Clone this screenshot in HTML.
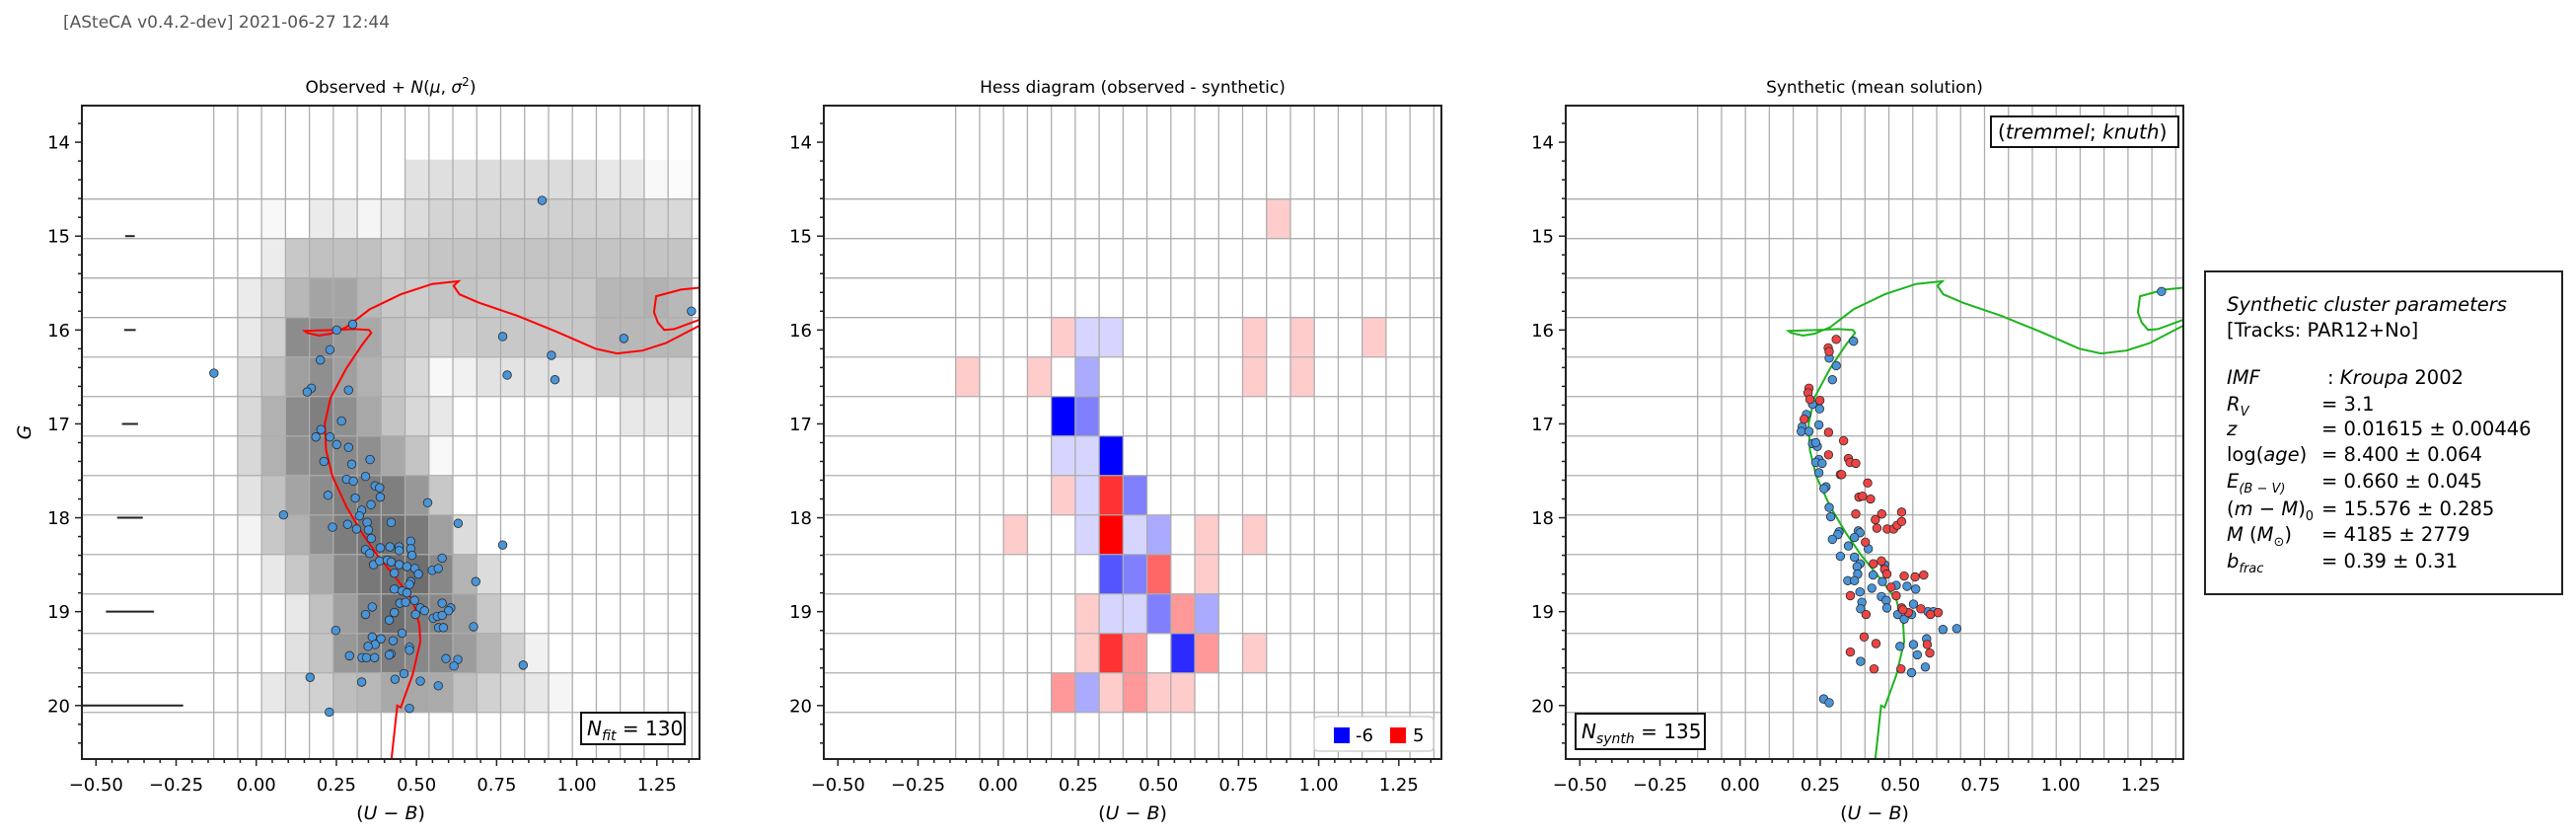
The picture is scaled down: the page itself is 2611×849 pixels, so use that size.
<!DOCTYPE html>
<html><head><meta charset="utf-8">
<style>
html,body{margin:0;padding:0;background:#fff;}
svg{display:block;font-family:"DejaVu Sans","Liberation Sans",sans-serif;}
</style></head>
<body>
<svg id="fig" width="2611" height="849" viewBox="0 0 2611 849" xmlns="http://www.w3.org/2000/svg">
<rect x="0" y="0" width="2611" height="849" fill="#fff"/>
<text x="64" y="28" font-size="17" fill="#555">[ASteCA v0.4.2-dev] 2021-06-27 12:44</text>
<g id="layer"></g>
<g font-size="19.5" fill="#000">
<rect x="2235" y="275" width="362" height="327" fill="#fff" stroke="#222" stroke-width="2"/>
<text x="2257" y="315" font-style="italic">Synthetic cluster parameters</text>
<text x="2257" y="341">[Tracks: PAR12+No]</text>
<text x="2257" y="389"><tspan font-style="italic">IMF</tspan></text><text x="2359" y="389">: <tspan font-style="italic">Kroupa</tspan> 2002</text>
<text x="2257" y="416"><tspan font-style="italic">R</tspan><tspan font-size="13" dy="5" font-style="italic">V</tspan></text><text x="2353" y="416">=  3.1</text>
<text x="2257" y="441" font-style="italic">z</text><text x="2353" y="441">=  0.01615 ± 0.00446</text>
<text x="2257" y="467">log(<tspan font-style="italic">age</tspan>)</text><text x="2353" y="467">=  8.400 ± 0.064</text>
<text x="2257" y="494"><tspan font-style="italic">E</tspan><tspan font-size="13" dy="5" font-style="italic">(B − V)</tspan></text><text x="2353" y="494">=  0.660 ± 0.045</text>
<text x="2257" y="522">(<tspan font-style="italic">m</tspan> − <tspan font-style="italic">M</tspan>)<tspan font-size="13" dy="5">0</tspan></text><text x="2353" y="522">=  15.576 ± 0.285</text>
<text x="2257" y="548"><tspan font-style="italic">M</tspan> (<tspan font-style="italic">M</tspan><tspan font-size="13" dy="5">⊙</tspan><tspan dy="-5">)</tspan></text><text x="2353" y="548">=  4185 ± 2779</text>
<text x="2257" y="575"><tspan font-style="italic">b</tspan><tspan font-size="13" dy="5" font-style="italic">frac</tspan></text><text x="2353" y="575">=  0.39 ± 0.31</text>
</g>
</svg>
<script>
// ---- data ----
const binX0 = -0.1325, binDX = 0.0746, binG0 = 14.185, binDG = 0.4206;
const obsDensity = [
[0,0,0,0,0,0,0,0,2,2.2,2.2,2.4,2.4,2.4,2.4,2.2,1.6,1.6,0.5,0.3],
[0,0,0.5,0,1.4,1.4,0.7,1.6,2.4,3,3,3.2,3.2,3.2,3.2,3.2,3.2,3.2,2.6,2.6],
[0,0,1.3,3.8,4.3,4.3,4.3,3.2,3.8,4,4,4.1,4.1,4.1,4.1,4.1,4.1,4.1,4.1,4.1],
[0,1.4,2.7,4.9,6.3,6.3,4.9,3.8,3.5,4.1,4.1,3.8,3.8,3.8,3.8,3.8,5,5,5.4,4.9],
[0,1.5,3.2,7.9,8.1,7,6,4.1,3.6,3,3.3,3.8,3.8,3.8,3.8,3.8,4.9,4.9,4.9,4.9],
[0,2.4,4.3,6.6,7.7,6.6,5.4,3.8,2.7,0.5,1,1.9,1.9,1.9,1.9,1.9,3.2,3.2,3.2,3.2],
[0,2.6,5.4,7.9,8.8,7.7,6,4.1,2.7,1.6,0,0,0,0,0,0,0,1.6,1.6,1.6],
[0,2.7,5.4,7.7,8.2,8.1,7.7,6,4.1,0.5,0,0,0,0,0,0,0,0,0,0],
[0,1.9,4.3,6.3,7.9,8.8,9,8.8,7.1,3.8,0,0,0,0,0,0,0,0,0,0],
[0,0.8,3.8,5.4,7.7,9,9.6,9.9,9.2,6.6,2.4,0,0,0,0,0,0,0,0,0],
[0,0,1.6,3.8,6,8.2,9.3,9.9,10,8.2,5.2,2.4,0,0,0,0,0,0,0,0],
[0,0,0,1.6,4.3,6.6,8.5,9.9,9,8.2,6.6,3.8,1.6,0,0,0,0,0,0,0],
[0,0,0,2.1,4.1,7.1,8.1,8.8,8.2,7.9,6.8,5.2,3.2,1,0,0,0,0,0,0],
[0,0,1.6,2.4,3.2,4.5,4.9,6,6,5.8,4.3,3.2,2.4,1.6,0.7,0,0,0,0,0]
];
const hessDiff = [
[0,0,0,0,0,0,0,0,0,0,0,0,0,0,0,0,0,0,0,0],
[0,0,0,0,0,0,0,0,0,0,0,0,0,1,0,0,0,0,0,0],
[0,0,0,0,0,0,0,0,0,0,0,0,0,0,0,0,0,0,0,0],
[0,0,0,0,0,0,0,0,0,0,0,0,0,0,0,0,0,0,0,0],
[0,0,0,0,1,-1,-1,0,0,0,0,0,1,0,1,0,0,1,0,0],
[1,0,0,1,0,-2,0,0,0,0,0,0,1,0,1,0,0,0,0,0],
[0,0,0,0,-6,-3,0,0,0,0,0,0,0,0,0,0,0,0,0,0],
[0,0,0,0,-1,-1,-6,0,0,0,0,0,0,0,0,0,0,0,0,0],
[0,0,0,0,1,-1,4,-3,0,0,0,0,0,0,0,0,0,0,0,0],
[0,0,1,0,0,-1,5,-1,-2,0,1,0,1,0,0,0,0,0,0,0],
[0,0,0,0,0,0,-4,-3,3,0,1,0,0,0,0,0,0,0,0,0],
[0,0,0,0,0,1,-1,-1,-3,2,-2,0,0,0,0,0,0,0,0,0],
[0,0,0,0,0,1,4,2,0,-5,2,0,1,0,0,0,0,0,0,0],
[0,0,0,0,2,-2,1,2,1,1,0,0,0,0,0,0,0,0,0,0]
];
const obsX = [-0.132,0.251,0.301,0.230,0.200,0.172,0.159,0.288,0.266,0.202,0.186,0.230,0.251,0.288,0.211,0.298,0.355,0.282,0.303,0.341,0.371,0.385,0.387,0.224,0.309,0.358,0.329,0.322,0.085,0.535,0.238,0.285,0.313,0.346,0.350,0.421,0.630,0.359,0.769,0.341,0.354,0.387,0.417,0.446,0.446,0.482,0.482,0.486,0.366,0.385,0.409,0.421,0.446,0.470,0.495,0.506,0.431,0.549,0.568,0.580,0.482,0.478,0.685,0.431,0.455,0.470,0.494,0.448,0.466,0.580,0.607,0.600,0.512,0.525,0.362,0.431,0.341,0.497,0.552,0.565,0.580,0.415,0.569,0.584,0.678,0.248,0.455,0.362,0.389,0.427,0.371,0.349,0.478,0.478,0.420,0.415,0.291,0.330,0.344,0.369,0.592,0.629,0.617,0.833,0.168,0.329,0.433,0.461,0.512,0.568,0.228,0.478,0.769,0.921,0.783,0.932,1.147,1.358,0.892];
const obsG = [16.46,16.00,15.94,16.21,16.32,16.62,16.66,16.64,16.97,17.06,17.14,17.14,17.22,17.25,17.40,17.43,17.38,17.59,17.61,17.56,17.66,17.68,17.78,17.76,17.79,17.86,17.92,17.98,17.97,17.84,18.10,18.07,18.12,18.05,18.13,18.05,18.06,18.22,18.29,18.34,18.38,18.32,18.31,18.31,18.35,18.25,18.33,18.40,18.50,18.46,18.45,18.47,18.50,18.52,18.54,18.60,18.59,18.56,18.54,18.43,18.68,18.71,18.68,18.76,18.78,18.80,18.88,18.91,18.90,18.91,18.96,18.99,18.96,18.99,18.95,19.01,19.03,19.03,19.07,19.05,19.04,19.09,19.17,19.17,19.16,19.20,19.23,19.27,19.29,19.31,19.35,19.37,19.38,19.41,19.45,19.46,19.47,19.49,19.49,19.49,19.50,19.51,19.58,19.57,19.70,19.75,19.72,19.66,19.74,19.79,20.07,20.03,16.07,16.27,16.48,16.53,16.09,15.80,14.62];
const errG = [15,16,17,18,19,20];
const errHalf = [0.015,0.018,0.025,0.04,0.075,0.166];
const isoX = [0.422,0.44,0.451,0.488,0.512,0.509,0.488,0.438,0.378,0.330,0.281,0.238,0.218,0.214,0.232,0.281,0.330,0.359,0.352,0.306,0.245,0.151,0.159,0.196,0.232,0.281,0.354,0.451,0.549,0.631,0.616,0.634,0.695,0.816,0.938,1.059,1.126,1.205,1.278,1.385];
const isoG = [20.57,20.0,20.02,19.67,19.32,19.14,18.88,18.65,18.40,18.16,17.88,17.56,17.28,17.00,16.72,16.41,16.16,16.03,16.00,15.99,16.00,16.01,16.03,16.06,16.04,15.97,15.78,15.62,15.51,15.48,15.53,15.62,15.71,15.85,16.02,16.20,16.25,16.22,16.14,15.95];
const loopX = [1.383,1.325,1.248,1.241,1.253,1.273,1.304,1.383];
const loopG = [15.55,15.57,15.64,15.81,15.92,16.00,15.99,15.89];
const synBlueX = [0.288,0.226,0.248,0.207,0.246,0.194,0.191,0.215,0.226,0.241,0.236,0.246,0.236,0.256,0.246,0.268,0.262,0.278,0.283,0.309,0.305,0.288,0.369,0.374,0.357,0.338,0.400,0.313,0.357,0.374,0.365,0.367,0.336,0.357,0.415,0.451,0.444,0.487,0.521,0.548,0.411,0.374,0.441,0.456,0.380,0.376,0.458,0.541,0.492,0.512,0.535,0.586,0.603,0.633,0.676,0.582,0.541,0.499,0.553,0.578,0.535,0.376,0.261,0.278,0.354,0.278,0.300,1.315];
const synBlueG = [16.53,16.79,16.84,16.90,17.01,17.03,17.08,17.08,17.21,17.24,17.20,17.38,17.41,17.42,17.52,17.67,17.69,17.89,17.99,18.15,18.18,18.23,18.14,18.16,18.21,18.30,18.33,18.41,18.42,18.49,18.52,18.60,18.67,18.67,18.61,18.50,18.68,18.72,18.73,18.76,18.75,18.79,18.84,18.88,18.90,18.97,18.96,18.92,19.03,19.08,19.03,19.00,19.00,19.19,19.18,19.29,19.35,19.37,19.46,19.59,19.65,19.53,19.93,19.97,16.12,16.30,16.38,15.59];
const synRedX = [0.300,0.275,0.278,0.215,0.212,0.218,0.249,0.200,0.276,0.323,0.276,0.338,0.343,0.361,0.313,0.317,0.398,0.371,0.382,0.407,0.361,0.422,0.442,0.427,0.459,0.479,0.490,0.504,0.504,0.391,0.441,0.416,0.451,0.458,0.512,0.546,0.573,0.471,0.487,0.344,0.393,0.504,0.525,0.508,0.564,0.594,0.618,0.387,0.424,0.344,0.584,0.592,0.418,0.502];
const synRedG = [16.10,16.19,16.23,16.62,16.67,16.74,16.75,16.95,17.09,17.18,17.33,17.37,17.41,17.42,17.54,17.54,17.63,17.78,17.77,17.80,17.96,18.02,17.96,18.11,18.12,18.12,18.08,18.04,17.94,18.26,18.46,18.49,18.55,18.60,18.62,18.63,18.61,18.74,18.83,18.83,19.03,18.96,19.01,18.98,18.97,19.03,19.01,19.27,19.34,19.43,19.35,19.44,19.61,19.61];
const xTicks = [-0.5,-0.25,0,0.25,0.5,0.75,1.0,1.25];
const xTickLabels = ["\u22120.50","\u22120.25","0.00","0.25","0.50","0.75","1.00","1.25"];
const yTicks = [14,15,16,17,18,19,20];
const titles = ["Observed + ","Hess diagram (observed - synthetic)","Synthetic (mean solution)"];

// ---- layout ----
const NS = "http://www.w3.org/2000/svg";
const layer = document.getElementById('layer');
const AX = {top:107, bottom:769, w:626, left0:83, step:752};
const xMin = -0.544, xMax = 1.383, gMin = 13.61, gMax = 20.57;
function X(p, v){ return AX.left0 + p*AX.step + (v - xMin)/(xMax - xMin)*AX.w; }
function Y(g){ return AX.top + (g - gMin)/(gMax - gMin)*(AX.bottom - AX.top); }
function el(tag, attrs, parent){ const e = document.createElementNS(NS, tag); for (const k in attrs) e.setAttribute(k, attrs[k]); (parent||layer).appendChild(e); return e; }
function grayOf(d){ const g = Math.round(255 - 14.5*d); return `rgb(${g},${g},${g})`; }
function bwr(v){ if (v>0){ const c=Math.round(255-255*v/5); return `rgb(255,${c},${c})`; } const c=Math.round(255-255*(-v)/6); return `rgb(${c},${c},255)`; }

for (let p=0; p<3; p++){
  const L = AX.left0 + p*AX.step, R = L + AX.w;
  const g = el('g', {});
  
  
  const cp = el('clipPath', {id:'clip'+p}, g);
  el('rect', {x:L, y:AX.top, width:AX.w, height:AX.bottom-AX.top}, cp);
  const inner = el('g', {'clip-path':'url(#clip'+p+')'}, g);
  if (p===0 || p===1){
    const M = p===0 ? obsDensity : hessDiff;
    for (let r=0; r<M.length; r++) for (let c=0; c<M[r].length; c++){
      const v = M[r][c]; if (v===0) continue;
      const x0 = X(p, binX0 + c*binDX), x1 = X(p, binX0 + (c+1)*binDX);
      const y0 = Y(binG0 + r*binDG), y1 = Y(binG0 + (r+1)*binDG);
      const cell = el('rect', {x:x0, y:y0, width:x1-x0, height:y1-y0, fill: p===0 ? grayOf(v) : bwr(v)}, inner);
      
      
    }
  }
  for (let k=0; k<=20; k++){ const x = X(p, binX0 + k*binDX); el('line', {x1:x, x2:x, y1:AX.top, y2:AX.bottom, stroke:'#adadad', 'stroke-width':1.3}, inner); }
  for (let k=1; k<=14; k++){ const y = Y(binG0 + k*binDG); el('line', {x1:L, x2:R, y1:y, y2:y, stroke:'#adadad', 'stroke-width':1.3}, inner); }
  if (p===0){
    for (let i=0; i<errG.length; i++){
      const eb = el('line', {x1:X(0,-0.394-errHalf[i]), x2:X(0,-0.394+errHalf[i]), y1:Y(errG[i]), y2:Y(errG[i]), stroke:'#222', 'stroke-width':2}, inner);
      
      
    }
  }
  if (p===0 || p===2){
    const col = p===0 ? '#ff0000' : '#1db41d';
    const d1 = isoX.map((v,i)=>(i?'L':'M')+X(p,v).toFixed(1)+' '+Y(isoG[i]).toFixed(1)).join(' ');
    const d2 = loopX.map((v,i)=>(i?'L':'M')+X(p,v).toFixed(1)+' '+Y(loopG[i]).toFixed(1)).join(' ');
    const iso = el('path', {d:d1+' '+d2, fill:'none', stroke:col, 'stroke-width':2}, inner);
    
    
  }
  function dots(xs, gs, fill, name){
    for (let i=0; i<xs.length; i++){
      const c = el('circle', {cx:X(p,xs[i]), cy:Y(gs[i]), r:4.3, fill:fill, stroke:'#2a2a2a', 'stroke-width':0.8}, inner);
      
      
    }
  }
  if (p===0) dots(obsX, obsG, '#4a94d8', 'observed-star');
  if (p===2){ dots(synBlueX, synBlueG, '#4a94d8', 'synthetic-single-star'); dots(synRedX, synRedG, '#ee4444', 'synthetic-binary-star'); }
  el('rect', {x:L, y:AX.top, width:AX.w, height:AX.bottom-AX.top, fill:'none', stroke:'#222', 'stroke-width':2}, g);
  for (let v=-0.5; v<=1.38; v+=0.05){ const x=X(p,v); const major = Math.abs(v/0.25 - Math.round(v/0.25))<1e-6; el('line',{x1:x,x2:x,y1:AX.bottom,y2:AX.bottom+(major?7:4),stroke:'#222','stroke-width':1.5},g); }
  for (let v=13.8; v<=20.5; v+=0.2){ const y=Y(v); const major=Math.abs(v-Math.round(v))<1e-6; el('line',{x1:L,x2:L-(major?7:4),y1:y,y2:y,stroke:'#222','stroke-width':1.5},g); }
  xTicks.forEach((v,i)=>{ const t=el('text',{x:X(p,v), y:801, 'font-size':18, 'text-anchor':'middle', fill:'#000'}, g); t.textContent=xTickLabels[i];
      });
  yTicks.forEach(v=>{ const t=el('text',{x:L-12, y:Y(v)+6.5, 'font-size':18, 'text-anchor':'end', fill:'#000'}, g); t.textContent=String(v);
      });
  const xl = el('text',{x:(L+R)/2, y:830, 'font-size':19, 'text-anchor':'middle'}, g);
  xl.innerHTML = '(<tspan font-style="italic">U</tspan> − <tspan font-style="italic">B</tspan>)';
   
  const tt = el('text',{x:(L+R)/2, y:94, 'font-size':17, 'text-anchor':'middle'}, g);
  if (p===0) tt.innerHTML = 'Observed + <tspan font-style="italic">N</tspan>(<tspan font-style="italic">μ</tspan>, <tspan font-style="italic">σ</tspan><tspan font-size="12" dy="-7">2</tspan><tspan dy="7">)</tspan>';
  else tt.textContent = titles[p];
   
}
const yl = el('text',{x:31, y:438, 'font-size':19, 'font-style':'italic', 'text-anchor':'middle', transform:'rotate(-90 31 438)'});
yl.textContent='G';
 
function box(x,y,w,h,html,name,tx){
  const g = el('g',{});
  
  
  el('rect',{x:x,y:y,width:w,height:h,fill:'#fff',stroke:'#111','stroke-width':2},g);
  const t = el('text',{x:tx,y:y+h/2+7,'font-size':20},g); t.innerHTML = html;
}
box(589,722,105,32,'<tspan font-style="italic">N</tspan><tspan font-size="14" dy="5" font-style="italic">fit</tspan><tspan dy="-5"> = 130</tspan>','nfit-box',595);
box(1597,723,131,36,'<tspan font-style="italic">N</tspan><tspan font-size="14" dy="5" font-style="italic">synth</tspan><tspan dy="-5"> = 135</tspan>','nsynth-box',1603);
box(2018,118,190,31,'(<tspan font-style="italic">tremmel</tspan>; <tspan font-style="italic">knuth</tspan>)','method-box',2025);
const lg = el('g',{});


el('rect',{x:1332,y:726,width:121,height:35,rx:4,fill:'#fff',stroke:'#d0d0d0','stroke-width':1.5},lg);
el('rect',{x:1352,y:737,width:16,height:16,fill:'#0000ff'},lg);
const lt1=el('text',{x:1374,y:751,'font-size':18},lg); lt1.textContent='-6';
el('rect',{x:1409,y:737,width:16,height:16,fill:'#ff0000'},lg);
const lt2=el('text',{x:1432,y:751,'font-size':18},lg); lt2.textContent='5';
</script>
</body></html>
